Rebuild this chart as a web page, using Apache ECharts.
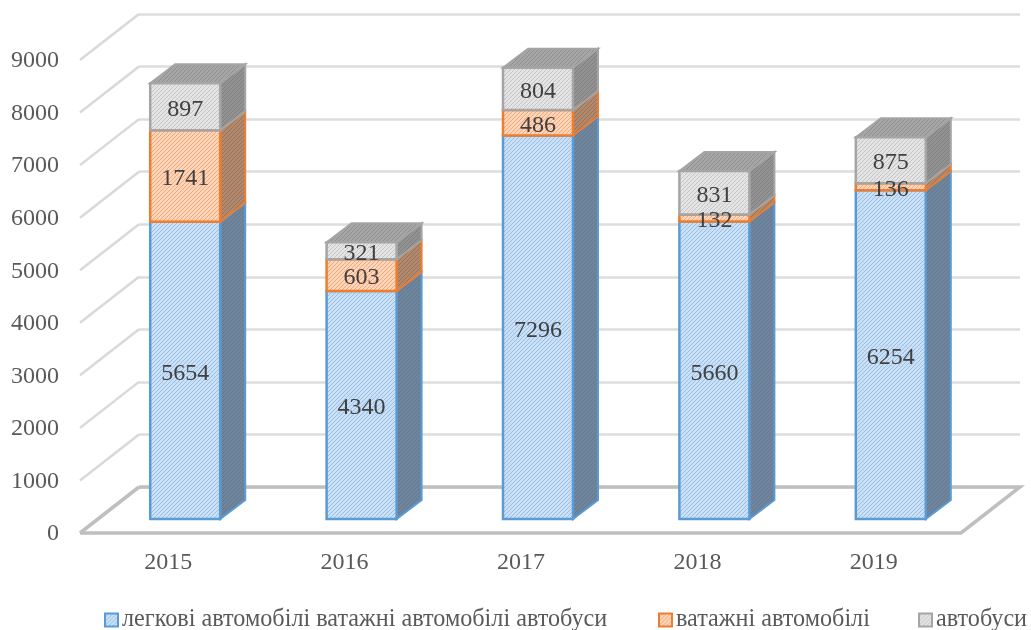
<!DOCTYPE html>
<html>
<head>
<meta charset="utf-8">
<title>Chart</title>
<script src="https://cdn.jsdelivr.net/npm/echarts@6/dist/echarts.min.js"></script>
<style>
  html, body { margin: 0; padding: 0; background: #fff; }
  #chart { width: 1031px; height: 630px; }
</style>
</head>
<body>
<div id="chart"></div>
<script>
const years = ['2015', '2016', '2017', '2018', '2019'];
const cars = [5654, 4340, 7296, 5660, 6254];
const trucks = [1741, 603, 486, 132, 136];
const buses = [897, 321, 804, 831, 875];
const yTicks = [0, 1000, 2000, 3000, 4000, 5000, 6000, 7000, 8000, 9000];

const serif = '"Liberation Serif", "Times New Roman", serif';
const wallDepth = [59, 46];
const barDepth = [25, 19];
const barWidth = 70;

function hatch(bg, fg) {
  const c = document.createElement('canvas');
  c.width = 4;
  c.height = 4;
  const ctx = c.getContext('2d');
  ctx.fillStyle = bg;
  ctx.fillRect(0, 0, 4, 4);
  ctx.strokeStyle = fg;
  ctx.lineWidth = 1;
  ctx.beginPath();
  ctx.moveTo(-1, 5);
  ctx.lineTo(5, -1);
  ctx.moveTo(-1, 1);
  ctx.lineTo(1, -1);
  ctx.moveTo(3, 5);
  ctx.lineTo(5, 3);
  ctx.stroke();
  return { image: c, repeat: 'repeat' };
}

const styles = [
  { line: '#5b9bd5', order: 1, front: hatch('#cbe0f4', '#94bfe8'), side: hatch('#71859a', '#5f7b9a') },
  { line: '#ed7d31', order: 2, front: hatch('#fcd5ba', '#f5a873'), side: hatch('#b08a70', '#a0714f') },
  { line: '#a5a5a5', order: 3, front: hatch('#e4e4e4', '#c4c4c4'), side: hatch('#929292', '#808080'), top: hatch('#a6a6a6', '#8f8f8f') }
];

function makeRows(lower, values) {
  return values.map((v, i) => [i, lower[i], lower[i] + v, v]);
}

const base0 = years.map(() => 0);
const base1 = cars.slice();
const base2 = cars.map((v, i) => v + trucks[i]);

function barRenderer(style) {
  return (params, api) => {
    const cat = api.value(0);
    const bottom = api.coord([cat, api.value(1)]);
    const top = api.coord([cat, api.value(2)]);
    const x0 = bottom[0] - barWidth / 2;
    const x1 = bottom[0] + barWidth / 2;
    const [dx, dy] = barDepth;
    const children = [
      {
        type: 'polygon',
        z2: style.order,
        shape: { points: [[x1, top[1]], [x1 + dx, top[1] - dy], [x1 + dx, bottom[1] - dy], [x1, bottom[1]]] },
        style: { fill: style.side, stroke: style.line, lineWidth: 2 }
      }
    ];
    if (style.top) {
      children.push({
        type: 'polygon',
        z2: style.order,
        shape: { points: [[x0, top[1]], [x0 + dx, top[1] - dy], [x1 + dx, top[1] - dy], [x1, top[1]]] },
        style: { fill: style.top, stroke: style.line, lineWidth: 2 }
      });
    }
    children.push({
      type: 'rect',
      z2: style.order,
      shape: { x: x0, y: top[1], width: barWidth, height: bottom[1] - top[1] },
      style: { fill: style.front, stroke: style.line, lineWidth: 2.5 }
    });
    // labels sit above every face, the thin truck segments get overprinted in the original too
    children.push({
      type: 'text',
      z2: 10,
      style: {
        x: bottom[0],
        y: (top[1] + bottom[1]) / 2 + 3,
        text: String(api.value(3)),
        align: 'center',
        verticalAlign: 'middle',
        fill: '#404040',
        font: '24px ' + serif
      }
    });
    return { type: 'group', children };
  };
}

function wallRenderer(params, api) {
  const sys = params.coordSys;
  const value = api.value(0);
  const p = api.coord([0, value]);
  const [dx, dy] = wallDepth;
  const left = sys.x;
  const right = sys.x + sys.width;
  const isFloor = value === 0;
  const children = [{
    type: 'line',
    shape: { x1: left, y1: p[1], x2: left - dx, y2: p[1] + dy },
    style: { stroke: isFloor ? '#bfbfbf' : '#d9d9d9', lineWidth: isFloor ? 3.5 : 2.5 }
  }];
  if (isFloor) {
    children.push({
      type: 'polyline',
      shape: { points: [[left, p[1]], [right, p[1]], [right - dx, p[1] + dy], [left - dx, p[1] + dy]] },
      style: { fill: 'none', stroke: '#bfbfbf', lineWidth: 3.5 }
    });
  }
  return { type: 'group', children };
}

const chart = echarts.init(document.getElementById('chart'), null, { renderer: 'canvas' });

const makeBarSeries = (name, rows, style) => ({
  name,
  type: 'custom',
  xAxisIndex: 1,
  yAxisIndex: 1,
  z: 2,
  animation: false,
  data: rows,
  encode: { x: 0, y: [1, 2] },
  itemStyle: { color: style.front, borderColor: style.line, borderWidth: 2 },
  renderItem: barRenderer(style)
});

const names = ['легкові автомобілі ватажні автомобілі автобуси', 'ватажні автомобілі', 'автобуси'];
const legendLeft = [104, 658, 918];

chart.setOption({
  backgroundColor: '#fff',
  animation: false,
  legend: names.map((name, i) => ({
    data: [name],
    left: legendLeft[i],
    top: 608,
    padding: 0,
    itemWidth: 13,
    itemHeight: 13,
    itemGap: 0,
    selectedMode: false,
    icon: 'rect',
    textStyle: { color: '#595959', fontSize: 24.2, fontFamily: serif, padding: [2, 0, 0, -1] }
  })),
  grid: [
    { left: 80, right: 69, top: 61, bottom: 96 },
    { left: 97, right: 52, top: 46, bottom: 111 },
    { left: 139, right: 11, top: 14, bottom: 143 }
  ],
  xAxis: [
    {
      gridIndex: 0,
      type: 'category',
      data: years,
      axisTick: { show: false },
      axisLine: { show: false },
      axisLabel: { color: '#595959', fontSize: 24, fontFamily: serif, margin: 17 }
    },
    { gridIndex: 1, type: 'category', data: years, show: false },
    { gridIndex: 2, type: 'category', data: years, show: false }
  ],
  yAxis: [
    {
      gridIndex: 0,
      type: 'value',
      min: 0,
      max: 9000,
      interval: 1000,
      axisLine: { show: false },
      axisTick: { show: false },
      splitLine: { show: false },
      axisLabel: {
        color: '#595959',
        fontSize: 24,
        fontFamily: serif,
        margin: 21,
        formatter: (v) => String(v)
      }
    },
    { gridIndex: 1, type: 'value', min: 0, max: 9000, show: false },
    {
      gridIndex: 2,
      type: 'value',
      min: 0,
      max: 9000,
      interval: 1000,
      axisLine: { show: false },
      axisTick: { show: false },
      axisLabel: { show: false },
      splitLine: { lineStyle: { color: '#dddddd', width: 2.5 } }
    }
  ],
  series: [
    {
      type: 'custom',
      xAxisIndex: 2,
      yAxisIndex: 2,
      z: 1,
      silent: true,
      animation: false,
      data: yTicks.map((v) => [v]),
      encode: { y: 0 },
      renderItem: wallRenderer
    },
    makeBarSeries(names[0], makeRows(base0, cars), styles[0]),
    makeBarSeries(names[1], makeRows(base1, trucks), styles[1]),
    makeBarSeries(names[2], makeRows(base2, buses), styles[2])
  ]
});

window.addEventListener('resize', () => chart.resize());
</script>
</body>
</html>
